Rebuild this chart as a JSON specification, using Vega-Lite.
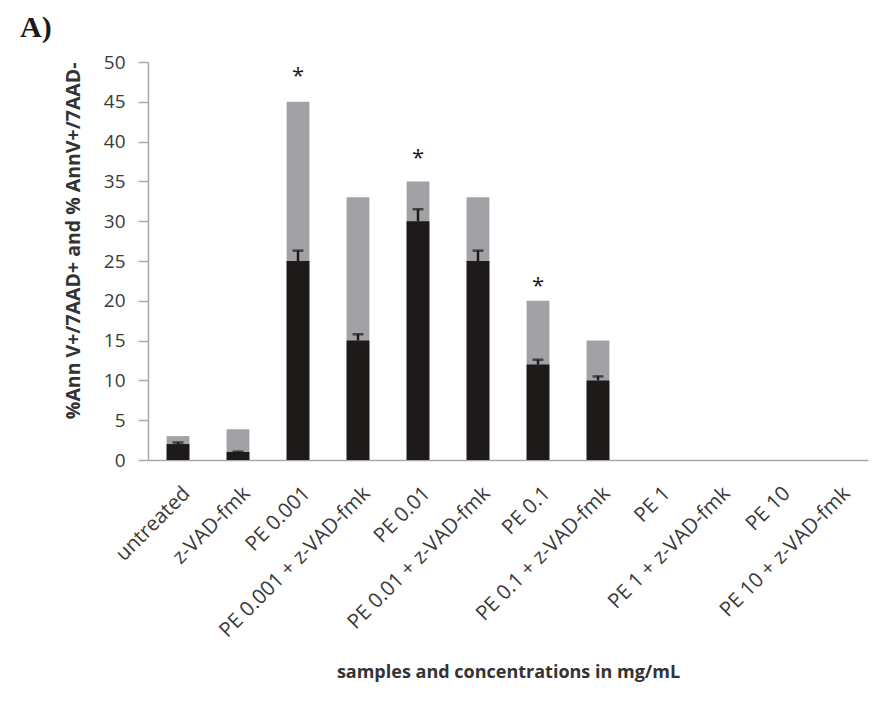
{
  "$schema": "https://vega.github.io/schema/vega-lite/v6.json",
  "autosize": "none",
  "width": 720,
  "height": 398,
  "padding": {"left": 148, "top": 62, "right": 11, "bottom": 253},
  "background": "#ffffff",
  "title": {"text": "A)", "anchor": "start", "frame": "group", "dx": -128, "dy": 2, "offset": 12, "font": "Liberation Serif", "fontSize": 30, "fontWeight": "bold", "color": "#1a1a1a"},
  "config": {
    "view": {"stroke": null},
    "axisY": {
      "titleFont": "Open Sans", "titleFontSize": 19.5, "titleFontWeight": "bold", "titleColor": "#333333", "titlePadding": 20, "titleAnchor": "end",
      "labelOverlap": false, "labelFont": "Open Sans", "labelFontSize": 19, "labelColor": "#3a3a3a", "labelPadding": 13,
      "grid": false, "ticks": true, "tickSize": 10, "tickWidth": 1.5, "tickColor": "#a8a8b0", "domainColor": "#a8a8b0", "domainWidth": 1.5
    }
  },
  "data": {"values": [
    {"sample": "untreated", "black": 2, "total": 3, "top": 2.2, "star": null},
    {"sample": "z-VAD-fmk", "black": 1, "total": 3.85, "top": 1.05, "star": null},
    {"sample": "PE 0.001", "black": 25, "total": 45, "top": 26.3, "star": 47.3},
    {"sample": "PE 0.001 + z-VAD-fmk", "black": 15, "total": 33, "top": 15.8, "star": null},
    {"sample": "PE 0.01", "black": 30, "total": 35, "top": 31.5, "star": 37},
    {"sample": "PE 0.01 + z-VAD-fmk", "black": 25, "total": 33, "top": 26.3, "star": null},
    {"sample": "PE 0.1", "black": 12, "total": 20, "top": 12.6, "star": 21},
    {"sample": "PE 0.1 + z-VAD-fmk", "black": 10, "total": 15, "top": 10.5, "star": null},
    {"sample": "PE 1", "black": 0, "total": 0, "top": 0, "star": null},
    {"sample": "PE 1 + z-VAD-fmk", "black": 0, "total": 0, "top": 0, "star": null},
    {"sample": "PE 10", "black": 0, "total": 0, "top": 0, "star": null},
    {"sample": "PE 10 + z-VAD-fmk", "black": 0, "total": 0, "top": 0, "star": null}
  ]},
  "encoding": {
    "x": {
      "field": "sample", "type": "nominal", "sort": null,
      "scale": {"paddingInner": 0.62, "paddingOuter": 0.31},
      "axis": {
        "title": "samples and concentrations in mg/mL",
        "titleFont": "Open Sans", "titleFontSize": 18, "titleFontWeight": "bold", "titleColor": "#333333", "titlePadding": 22,
        "labelAngle": -45, "labelAlign": "right", "labelBaseline": "middle", "labelPadding": 30, "labelOffset": 9,
        "labelFont": "Open Sans", "labelFontSize": 20.5, "labelColor": "#3a3a3a", "labelOverlap": false, "labelLimit": 0,
        "ticks": false, "domainColor": "#a8a8b0", "domainWidth": 1.5
      }
    }
  },
  "layer": [
    {
      "mark": {"type": "bar", "color": "#a2a2a6"},
      "encoding": {
        "y": {"field": "total", "type": "quantitative",
          "scale": {"domain": [0, 50]},
          "axis": {"title": "%Ann V+/7AAD+ and % AnnV+/7AAD-", "values": [0, 5, 10, 15, 20, 25, 30, 35, 40, 45, 50], "ticks": true, "tickSize": 10, "labelPadding": 13}
        }
      }
    },
    {
      "mark": {"type": "bar", "color": "#1e1a1a"},
      "encoding": {"y": {"field": "black", "type": "quantitative", "axis": {"title": "%Ann V+/7AAD+ and % AnnV+/7AAD-", "values": [0, 5, 10, 15, 20, 25, 30, 35, 40, 45, 50], "ticks": true, "tickSize": 10, "labelPadding": 13}}}
    },
    {
      "transform": [{"filter": "datum.top > datum.black"}],
      "mark": {"type": "rule", "color": "#1e1a1a", "strokeWidth": 2.5},
      "encoding": {"y": {"field": "black", "type": "quantitative", "axis": {"title": "%Ann V+/7AAD+ and % AnnV+/7AAD-", "values": [0, 5, 10, 15, 20, 25, 30, 35, 40, 45, 50], "ticks": true, "tickSize": 10, "labelPadding": 13}}, "y2": {"field": "top"}}
    },
    {
      "transform": [{"filter": "datum.top > datum.black"}],
      "mark": {"type": "tick", "color": "#1e1a1a", "thickness": 2.5, "size": 11, "orient": "horizontal"},
      "encoding": {"y": {"field": "top", "type": "quantitative", "axis": {"title": "%Ann V+/7AAD+ and % AnnV+/7AAD-", "values": [0, 5, 10, 15, 20, 25, 30, 35, 40, 45, 50], "ticks": true, "tickSize": 10, "labelPadding": 13}}}
    },
    {
      "transform": [{"filter": "datum.star != null"}],
      "mark": {"type": "text", "text": "*", "font": "Open Sans", "fontSize": 22, "color": "#1e1a1a", "baseline": "alphabetic"},
      "encoding": {"y": {"field": "star", "type": "quantitative", "axis": {"title": "%Ann V+/7AAD+ and % AnnV+/7AAD-", "values": [0, 5, 10, 15, 20, 25, 30, 35, 40, 45, 50], "ticks": true, "tickSize": 10, "labelPadding": 13}}}
    }
  ]
}
